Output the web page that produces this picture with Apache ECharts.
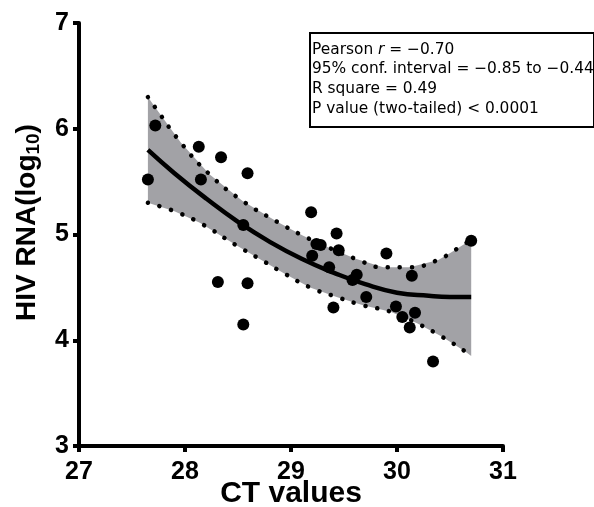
<!DOCTYPE html>
<html>
<head>
<meta charset="utf-8">
<script src="https://cdn.jsdelivr.net/npm/echarts@6/dist/echarts.min.js"></script>
<style>html,body{margin:0;padding:0;background:#fff}#c{width:594px;height:507px}</style>
</head>
<body>
<div id="c"></div>
<script>
// ---- data ----
const xTicks = [27, 28, 29, 30, 31];
const yTicks = [3, 4, 5, 6, 7];

const ctValues = [27.65, 27.72, 28.13, 28.15, 28.34, 28.59, 28.55, 28.31, 28.59, 28.55,
                  29.19, 29.43, 29.28, 29.24, 29.45, 29.20, 29.36, 29.40, 29.62, 29.58,
                  29.71, 29.90, 30.14, 29.99, 30.05, 30.17, 30.12, 30.34, 30.70];
const hivRna   = [5.52, 6.03, 5.83, 5.52, 5.73, 5.58, 5.09, 4.55, 4.54, 4.15,
                  5.21, 5.01, 4.90, 4.91, 4.85, 4.80, 4.69, 4.31, 4.62, 4.57,
                  4.41, 4.82, 4.61, 4.32, 4.22, 4.26, 4.12, 3.80, 4.94];

const fitX = [27.65, 27.9, 28.2, 28.5, 28.8, 29.1, 29.4, 29.7, 30.0, 30.3, 30.5, 30.7];
const fitY = [5.80, 5.58, 5.34, 5.12, 4.93, 4.77, 4.64, 4.53, 4.45, 4.42, 4.41, 4.41];

const upperX = [27.65, 27.72, 27.96, 28.23, 28.54, 28.87, 29.11, 29.37, 29.61, 29.87, 30.12, 30.39, 30.51, 30.70];
const upperY = [6.30, 6.20, 5.87, 5.57, 5.32, 5.12, 4.99, 4.87, 4.77, 4.69, 4.69, 4.76, 4.83, 4.95];

const lowerX = [27.65, 27.90, 28.14, 28.48, 28.72, 28.94, 29.18, 29.43, 29.68, 29.94, 30.19, 30.43, 30.65, 30.70];
const lowerY = [5.30, 5.22, 5.11, 4.90, 4.76, 4.63, 4.50, 4.41, 4.33, 4.27, 4.16, 4.03, 3.89, 3.85];

const statLines = [
  'Pearson {i|r} = \u22120.70',
  '95% conf. interval = \u22120.85 to \u22120.44',
  'R square = 0.49',
  'P value (two-tailed) < 0.0001'
];

// ---- chart ----
const FONT = '"Liberation Sans", Arial, sans-serif';
const BOXFONT = '"DejaVu Sans", sans-serif';
const pairs = (xs, ys) => xs.map((x, i) => [x, ys[i]]);

const chart = echarts.init(document.getElementById('c'), null, {renderer: 'canvas'});

const dotted = {type: [0.1, 12], cap: 'round', width: 4.5, color: '#000'};

chart.setOption({
  animation: false,
  backgroundColor: '#fff',
  grid: {left: 79, right: 91, top: 23, bottom: 61, containLabel: false, outerBoundsMode: 'none'},
  xAxis: {
    type: 'value', min: xTicks[0], max: xTicks[xTicks.length - 1], interval: 1,
    axisLine: {show: true, onZero: false, lineStyle: {color: '#000', width: 4}},
    axisTick: {show: true, length: 6, lineStyle: {color: '#000', width: 4}},
    splitLine: {show: false},
    axisLabel: {fontSize: 25, fontWeight: 'bold', color: '#000', margin: 14, fontFamily: FONT,
                formatter: v => String(v)},
    name: 'CT values', nameLocation: 'middle', nameGap: 33, nameMoveOverlap: false,
    nameTextStyle: {fontSize: 30, fontWeight: 'bold', color: '#000', fontFamily: FONT}
  },
  yAxis: {
    type: 'value', min: yTicks[0], max: yTicks[yTicks.length - 1], interval: 1,
    axisLine: {show: true, onZero: false, lineStyle: {color: '#000', width: 4}},
    axisTick: {show: true, length: 6, lineStyle: {color: '#000', width: 4}},
    splitLine: {show: false},
    axisLabel: {fontSize: 25, fontWeight: 'bold', color: '#000', margin: 10, fontFamily: FONT},
    name: 'HIV RNA(log{s|10})', nameLocation: 'middle', nameGap: 36, nameRotate: 90, nameMoveOverlap: false,
    nameTextStyle: {
      fontSize: 28, fontWeight: 'bold', color: '#000', fontFamily: FONT,
      padding: [0, 0, 0, 24],
      rich: {
        s: {fontSize: 19, fontWeight: 'bold', color: '#000', fontFamily: FONT, padding: [13, 0, 0, 0], verticalAlign: 'top'}
      }
    }
  },
  series: [
    {
      type: 'custom', coordinateSystem: 'cartesian2d', silent: true, z: 1,
      data: [[upperX[0], upperY[0]]],
      renderItem: function (params, api) {
        const pts = [];
        for (let i = 0; i < upperX.length; i++) pts.push(api.coord([upperX[i], upperY[i]]));
        for (let i = lowerX.length - 1; i >= 0; i--) pts.push(api.coord([lowerX[i], lowerY[i]]));
        return {type: 'polygon', shape: {points: pts}, style: {fill: '#a2a2a6'}};
      }
    },
    {type: 'line', data: pairs(upperX, upperY), smooth: true, symbol: 'none', lineStyle: dotted, z: 2, silent: true},
    {type: 'line', data: pairs(lowerX, lowerY), smooth: true, symbol: 'none', lineStyle: dotted, z: 2, silent: true},
    {type: 'line', data: pairs(fitX, fitY), smooth: true, symbol: 'none',
     lineStyle: {color: '#000', width: 4.5}, z: 3, silent: true},
    {type: 'scatter', data: pairs(ctValues, hivRna), symbol: 'circle', symbolSize: 12,
     itemStyle: {color: '#000', opacity: 1}, z: 5, silent: true}
  ],
  graphic: [
    {type: 'rect', left: 309, top: 32, z: 10,
     shape: {width: 284, height: 94},
     style: {fill: '#fff', stroke: '#000', lineWidth: 2}}
  ].concat(statLines.map((t, i) => ({
    type: 'text', left: 312, top: 42 + i * 19.7, z: 11,
    style: {
      text: t, fontSize: 15.4, fontFamily: BOXFONT, fill: '#000',
      rich: {i: {fontStyle: 'italic', fontSize: 15.4, fontFamily: BOXFONT, fill: '#000'}}
    }
  })))
});
</script>
</body>
</html>
